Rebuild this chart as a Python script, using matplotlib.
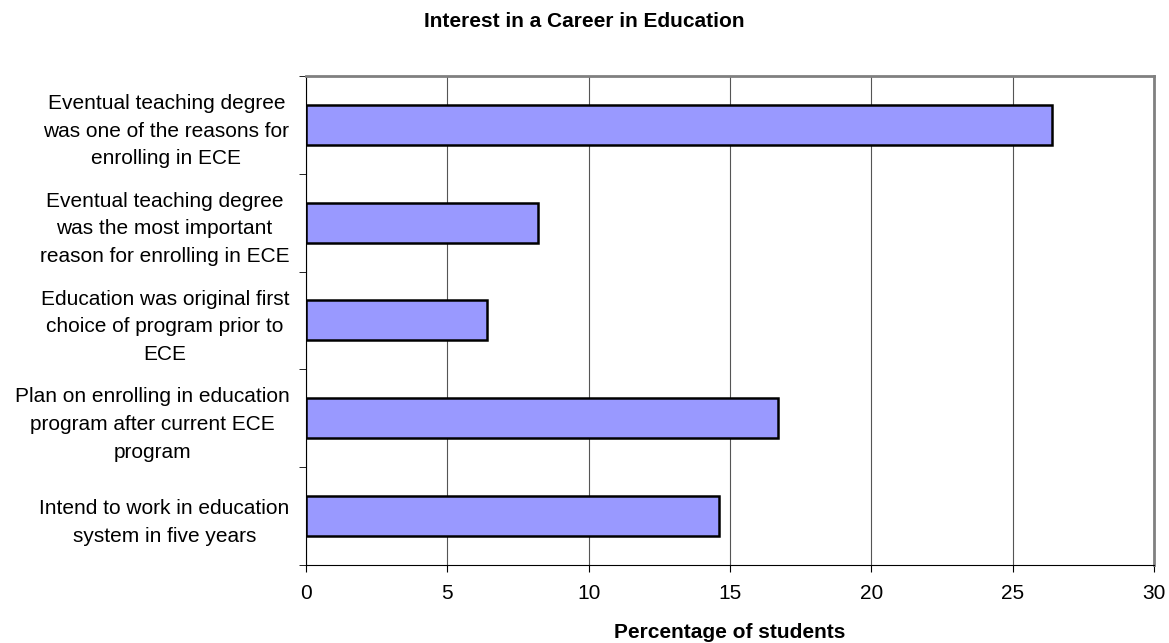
import matplotlib
matplotlib.use("Agg")
import matplotlib.pyplot as plt
import numpy as np

categories = [
    "Eventual teaching degree\nwas one of the reasons for\nenrolling in ECE",
    "Eventual teaching degree\nwas the most important\nreason for enrolling in ECE",
    "Education was original first\nchoice of program prior to\nECE",
    "Plan on enrolling in education\nprogram after current ECE\nprogram",
    "Intend to work in education\nsystem in five years",
]
percentages = [26.4, 8.2, 6.4, 16.7, 14.6]
x_ticks = [0, 5, 10, 15, 20, 25, 30]

plt.rcParams['font.family'] = ['Liberation Sans', 'DejaVu Sans']

fig = plt.figure(figsize=(11.69, 6.43), dpi=100)
ax = fig.add_axes([0.2618, 0.1213, 0.7254, 0.7607])

y = np.arange(len(categories))
ax.barh(y, percentages, height=0.41, color="#9999FF", edgecolor="black", linewidth=1.8, zorder=3)

ax.set_xlim(0, 30)
ax.set_ylim(len(categories) - 0.5, -0.5)
ax.set_xticks(x_ticks)
ax.set_xticklabels([str(t) for t in x_ticks], fontsize=15)

# category labels sit between the boundary ticks
ax.set_yticks(y)
ax.set_yticklabels(categories, fontsize=15, multialignment="center", linespacing=1.57)
ax.tick_params(axis="y", length=0, pad=12)
ax.set_yticks(np.arange(-0.5, len(categories), 1), minor=True)
ax.tick_params(axis="y", which="minor", length=5, direction="out", color="black")
ax.tick_params(axis="x", length=5, direction="out", color="black", pad=9)

ax.grid(axis="x", color="#555555", linewidth=0.8, zorder=0)

for s in ["top", "right"]:
    ax.spines[s].set_color("#808080")
    ax.spines[s].set_linewidth(2)
for s in ["left", "bottom"]:
    ax.spines[s].set_color("black")
    ax.spines[s].set_linewidth(0.8)

ax.set_xlabel("Percentage of students", fontsize=15, fontweight="bold", labelpad=14)
fig.suptitle("Interest in a Career in Education", fontsize=15, fontweight="bold", y=0.982)

fig.savefig("out.png", dpi=100)
